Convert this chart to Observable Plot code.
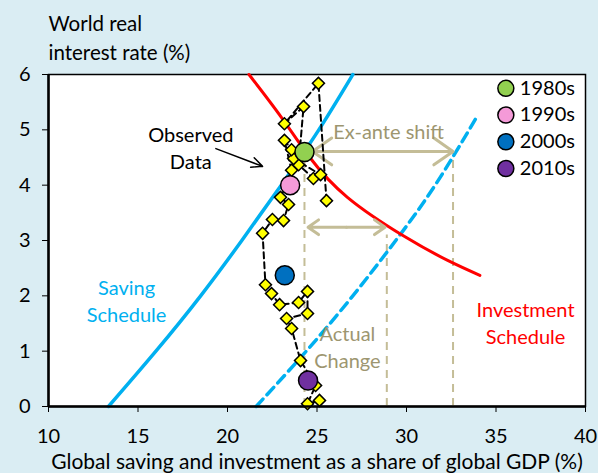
<!DOCTYPE html>
<html>
<head>
<meta charset="utf-8">
<script src="https://cdn.jsdelivr.net/npm/d3@7"></script>
<script src="https://cdn.jsdelivr.net/npm/@observablehq/plot@0.6"></script>
<style>
  html, body { margin: 0; padding: 0; background: #daedf3; }
  #chart { width: 598px; height: 473px; }
</style>
</head>
<body>
<div id="chart"></div>
<script>
// ---- data ----
const xTicks = [10, 15, 20, 25, 30, 35, 40];
const yTicks = [0, 1, 2, 3, 4, 5, 6];

// Saving schedule (solid)
const savingRate  = [0, 1, 2, 3, 4, 5, 6];
const savingShare = [13.35, 16.0, 18.5, 20.8, 23.0, 25.1, 27.0];
// Saving schedule after ex-ante shift (dashed)
const shiftedRate  = [0, 1, 2, 3, 4, 5, 5.22];
const shiftedShare = [21.6, 24.4, 27.0, 29.4, 31.6, 33.5, 33.9];
// Investment schedule
const investShare = [21.2, 23.0, 24.6, 26.7, 29.8, 32.3, 34.1];
const investRate  = [6.0, 5.23, 4.5, 3.78, 3.09, 2.64, 2.37];

// Observed data (yearly)
const obsShare = [25.53, 25.08, 23.18, 24.25, 23.97, 24.80, 25.20, 23.69, 23.58, 23.18, 23.58, 22.96, 23.41, 23.13, 22.51, 21.96, 22.12, 22.46, 22.91, 23.97, 24.47, 24.47, 23.30, 23.58, 24.08, 24.92, 24.47, 25.14];
const obsRate  = [3.72, 5.84, 5.11, 5.42, 4.37, 4.12, 4.19, 4.48, 4.64, 4.81, 4.27, 3.78, 3.65, 3.36, 3.38, 3.13, 2.20, 2.04, 1.84, 1.88, 2.08, 1.68, 1.59, 1.41, 0.83, 0.38, 0.05, 0.11];

// Decade averages
const decades      = ["1980s", "1990s", "2000s", "2010s"];
const decadeShare  = [24.3, 23.5, 23.2, 24.5];
const decadeRate   = [4.6, 4.0, 2.37, 0.47];
const decadeColors = ["#92d050", "#f49ad8", "#0070c0", "#7030a0"];

// Guide lines / arrows
const guideShare = [24.3, 28.9, 32.6];
const guideTop   = [4.6, 3.1, 4.6];
const exAnte = {from: 24.75, to: 32.6, rate: 4.61};
const actual = {from: 24.5, to: 28.8, rate: 3.24};

// ---- build ----
const zip = (xs, ys) => xs.map((x, i) => ({x, y: ys[i]}));
const saving = zip(savingShare, savingRate);
const shifted = zip(shiftedShare, shiftedRate);
const invest = zip(investShare, investRate);
const observed = zip(obsShare, obsRate);
const decadeData = decades.map((d, i) => ({d, x: decadeShare[i], y: decadeRate[i], c: decadeColors[i]}));
const legendData = decades.map((d, i) => ({d, c: decadeColors[i], y: 5.75 - i * 0.483}));
const guides = guideShare.map((x, i) => ({x, y1: 0, y2: guideTop[i]}));
const dbl = a => {
  const m = (a.from + a.to) / 2;
  return [{x1: m, x2: a.from, y: a.rate}, {x1: m, x2: a.to, y: a.rate}];
};
const arrowSegs = [...dbl(exAnte), ...dbl(actual)];

const tan = "#c4bd97";
const tanText = "#9d9670";
const FONT = "Lato, 'Open Sans', sans-serif";

const chart = Plot.plot({
  width: 598,
  height: 473,
  marginLeft: 48,
  marginRight: 13,
  marginTop: 74,
  marginBottom: 67,
  style: {background: "transparent", fontFamily: FONT, fontSize: "20px", color: "black", overflow: "visible"},
  x: {domain: [10, 40], ticks: xTicks, tickSize: 6, tickPadding: 16, label: null, tickFormat: d => String(d)},
  y: {domain: [0, 6], ticks: yTicks, tickSize: 6, tickPadding: 12, label: null, tickFormat: d => String(d)},
  marks: [
    Plot.frame({fill: "white", stroke: "black", strokeWidth: 1.5}),
    // tan guide lines
    Plot.ruleX(guides, {x: "x", y1: "y1", y2: "y2", stroke: tan, strokeWidth: 2, strokeDasharray: "8,6"}),
    // schedules
    Plot.line(saving, {x: "x", y: "y", stroke: "#00b0f0", strokeWidth: 3.5, curve: "natural"}),
    Plot.line(shifted, {x: "x", y: "y", stroke: "#00b0f0", strokeWidth: 3.5, strokeDasharray: "10,6", curve: "natural"}),
    Plot.line(invest, {x: "x", y: "y", stroke: "#ff0000", strokeWidth: 3, curve: "natural"}),
    // arrows
    Plot.arrow(arrowSegs, {x1: "x1", x2: "x2", y1: "y", y2: "y", stroke: tan, strokeWidth: 3, headLength: 16, headAngle: 70}),
    // observed data
    Plot.line(observed, {x: "x", y: "y", stroke: "black", strokeWidth: 2, strokeDasharray: "6,4"}),
    Plot.dot(observed, {x: "x", y: "y", symbol: "square", rotate: 45, r: 4.8, fill: "#ffff00", stroke: "black", strokeWidth: 1.5}),
    // decade averages
    Plot.dot(decadeData, {x: "x", y: "y", r: 9.5, fill: "c", stroke: "black", strokeWidth: 1.5}),
    // legend
    Plot.dot(legendData, {x: 35.55, y: "y", r: 8, fill: "c", stroke: "black", strokeWidth: 1.5}),
    Plot.text(legendData, {x: 35.55, y: "y", text: "d", dx: 14, textAnchor: "start", fontSize: 20, fill: "black"}),
    // annotations
    Plot.text(["Observed\nData"], {x: 17.95, y: 4.69, fontSize: 20, fill: "black", lineHeight: 1.35}),
    Plot.arrow([{x1: 19.35, y1: 4.66, x2: 21.96, y2: 4.34}], {x1: "x1", y1: "y1", x2: "x2", y2: "y2", stroke: "black", strokeWidth: 1.5, headLength: 12, headAngle: 50}),
    Plot.text(["Saving\nSchedule"], {x: 14.36, y: 1.93, fontSize: 20, fill: "#00b0f0", lineHeight: 1.35}),
    Plot.text(["Investment\nSchedule"], {x: 36.65, y: 1.53, fontSize: 20, fill: "#ff0000", lineHeight: 1.35}),
    Plot.text(["Ex-ante shift"], {x: 29.0, y: 4.95, fontSize: 20, fill: tanText}),
    Plot.text(["Actual\nChange"], {x: 26.7, y: 1.1, fontSize: 20, fill: tanText, lineHeight: 1.35}),
    // axis lines (left & bottom)
    Plot.ruleX([10], {stroke: "black", strokeWidth: 2.5}),
    Plot.ruleY([0], {stroke: "black", strokeWidth: 2.5}),
    // axis titles
    Plot.text(["World real\ninterest rate (%)"], {x: 10, y: 6, dy: -38, textAnchor: "start", fontSize: 20.5, fill: "black", lineHeight: 1.4}),
    Plot.text(["Global saving and investment as a share of global GDP (%)"], {x: 25, y: 0, dy: 56, fontSize: 21, fill: "black"})
  ]
});
document.getElementById("chart").appendChild(chart);
</script>
</body>
</html>
